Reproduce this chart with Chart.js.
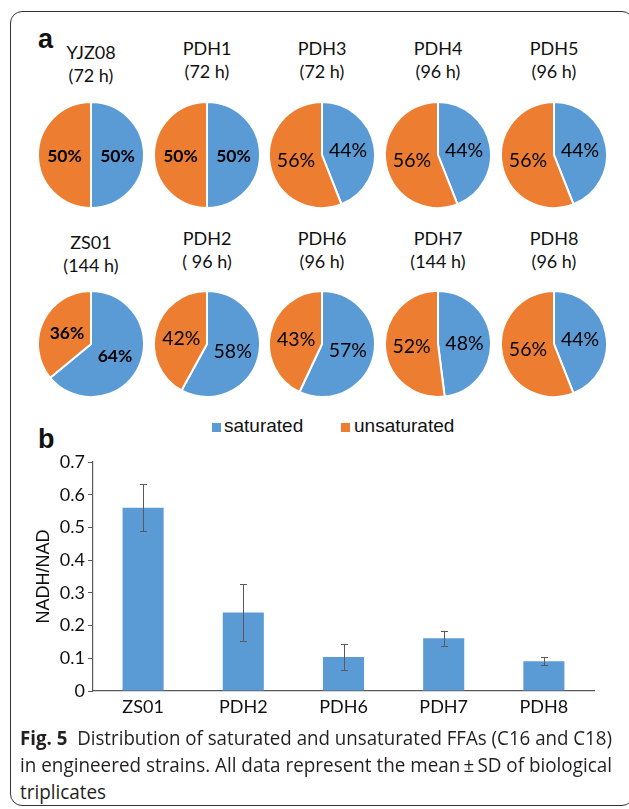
<!DOCTYPE html>
<html>
<head>
<meta charset="utf-8">
<script src="https://cdn.jsdelivr.net/npm/chart.js@4.4.1/dist/chart.umd.min.js"></script>
<style>
  body { margin: 0; background: #fff; width: 629px; height: 809px; overflow: hidden; position: relative; }
  .frame { position: absolute; left: 10px; top: 11px; width: 624px; height: 795px; border: 1.5px solid #333; border-radius: 12px; box-sizing: border-box; }
  .panel { position: absolute; font: bold 27px "Liberation Sans", Arial, sans-serif; color: #111; line-height: 30px; }
  .ptitle { position: absolute; width: 120px; text-align: center; font: 18px Lato, sans-serif; line-height: 23px; color: #111; white-space: pre; }
  .pie { position: absolute; width: 108px; height: 108px; }
  .key { position: absolute; width: 9px; height: 9px; }
  .keytext { position: absolute; font: 19px "Liberation Sans", Arial, sans-serif; line-height: 22px; color: #111; }
  .cap { position: absolute; left: 20px; font: 20px "Open Sans", sans-serif; line-height: 27px; color: #231f20; white-space: nowrap; transform-origin: 0 0; }
  .cap b { font-weight: 700; }
  #bars { position: absolute; left: 20px; top: 445px; }
</style>
</head>
<body>
<div class="frame"></div>
<div class="panel" style="left:38px; top:24px;">a</div>
<div class="panel" style="left:38px; top:424px;">b</div>

<div class="key" style="left:212px; top:423px; background:#5b9bd5;"></div>
<div class="keytext" style="left:224px; top:415px;">saturated</div>
<div class="key" style="left:341px; top:423px; background:#ed7d31;"></div>
<div class="keytext" style="left:354px; top:415px;">unsaturated</div>

<canvas id="bars" width="600" height="280"></canvas>

<div class="cap" id="cap1" style="top:724px;"><b>Fig. 5</b>&nbsp;&nbsp;Distribution of saturated and unsaturated FFAs (C16 and C18)</div>
<div class="cap" id="cap2" style="top:751px;">in engineered strains. All data represent the mean&#8201;±&#8201;SD of biological</div>
<div class="cap" id="cap3" style="top:778px;">triplicates</div>

<script>
// panel a: fatty acid split per strain
const strains = ['YJZ08', 'PDH1', 'PDH3', 'PDH4', 'PDH5', 'ZS01', 'PDH2', 'PDH6', 'PDH7', 'PDH8'];
const times = ['(72 h)', '(72 h)', '(72 h)', '(96 h)', '(96 h)', '(144 h)', '( 96 h)', '(96 h)', '(144 h)', '(96 h)'];
const saturated = [50, 50, 44, 44, 44, 64, 58, 57, 48, 44];
const unsaturated = [50, 50, 56, 56, 56, 36, 42, 43, 52, 56];

// panel b: NADH/NAD ratio
const barStrains = ['ZS01', 'PDH2', 'PDH6', 'PDH7', 'PDH8'];
const ratio = [0.56, 0.24, 0.104, 0.161, 0.091];
const ratioSD = [0.072, 0.086, 0.04, 0.023, 0.013];
const yTicks = [0, 0.1, 0.2, 0.3, 0.4, 0.5, 0.6, 0.7];

const blue = '#5b9bd5';
const orange = '#ed7d31';
const pieX = [91, 207, 322, 438, 554];
const pieY = [155, 344];
const boldPies = [0, 1, 5];

// draws the percentage inside each slice
const sliceLabels = {
    id: 'sliceLabels',
    afterDatasetsDraw(chart, args, opts) {
        let ctx = chart.ctx;
        let meta = chart.getDatasetMeta(0);
        let values = chart.data.datasets[0].data;
        ctx.save();
        ctx.fillStyle = '#000';
        ctx.font = opts.bold ? 'bold 17.5px Lato' : '19.5px Lato';
        ctx.textAlign = 'center';
        ctx.textBaseline = 'middle';
        meta.data.forEach(function(arc, i) {
            let p = arc.tooltipPosition();
            ctx.fillText(values[i] + '%', p.x, p.y + 1);
        });
        ctx.restore();
    }
};

strains.forEach(function(name, i) {
    let row = i < 5 ? 0 : 1;
    let cx = pieX[i % 5];
    let cy = pieY[row];

    let title = document.createElement('div');
    title.className = 'ptitle';
    title.textContent = name + '\n' + times[i];
    let top = row === 0 ? 37 : 227;
    if (i === 0 || i === 5) top += 4;
    title.style.left = (cx - 60) + 'px';
    title.style.top = top + 'px';
    document.body.appendChild(title);

    let canvas = document.createElement('canvas');
    canvas.className = 'pie';
    canvas.width = 108;
    canvas.height = 108;
    canvas.style.left = (cx - 54) + 'px';
    canvas.style.top = (cy - 54) + 'px';
    document.body.appendChild(canvas);

    new Chart(canvas.getContext('2d'), {
        type: 'pie',
        data: {
            labels: ['saturated', 'unsaturated'],
            datasets: [{
                data: [saturated[i], unsaturated[i]],
                backgroundColor: [blue, orange],
                borderColor: '#fff',
                borderWidth: 2
            }]
        },
        options: {
            responsive: false,
            animation: false,
            events: [],
            layout: { padding: 0 },
            plugins: {
                legend: { display: false },
                tooltip: { enabled: false },
                sliceLabels: { bold: boldPies.includes(i) }
            }
        },
        plugins: [sliceLabels]
    });
});

// error bars on top of the bars
const errorBars = {
    id: 'errorBars',
    afterDatasetsDraw(chart) {
        let ctx = chart.ctx;
        let yScale = chart.scales.y;
        let meta = chart.getDatasetMeta(0);
        ctx.save();
        ctx.strokeStyle = '#5a5a5a';
        ctx.lineWidth = 1;
        meta.data.forEach(function(bar, i) {
            let x = Math.round(bar.x) + 0.5;
            let hi = yScale.getPixelForValue(ratio[i] + ratioSD[i]);
            let lo = yScale.getPixelForValue(ratio[i] - ratioSD[i]);
            ctx.beginPath();
            ctx.moveTo(x, hi);
            ctx.lineTo(x, lo);
            ctx.moveTo(x - 3.5, Math.round(hi) + 0.5);
            ctx.lineTo(x + 3.5, Math.round(hi) + 0.5);
            ctx.moveTo(x - 3.5, Math.round(lo) + 0.5);
            ctx.lineTo(x + 3.5, Math.round(lo) + 0.5);
            ctx.stroke();
        });
        ctx.restore();
    }
};

new Chart(document.getElementById('bars').getContext('2d'), {
    type: 'bar',
    data: {
        labels: barStrains,
        datasets: [{
            label: 'NADH/NAD',
            data: ratio,
            backgroundColor: blue,
            barPercentage: 0.41,
            categoryPercentage: 1
        }]
    },
    options: {
        responsive: false,
        animation: false,
        events: [],
        layout: { padding: { top: 17, right: 26, bottom: 4, left: 0 } },
        plugins: {
            legend: { display: false },
            tooltip: { enabled: false }
        },
        scales: {
            x: {
                grid: { display: false, drawTicks: false },
                border: { display: true, color: '#595959', width: 1.2 },
                ticks: { color: '#111', font: { family: 'Lato', size: 18 }, padding: 5 },
                afterFit: function(scale) { scale.height = 30; }
            },
            y: {
                min: 0,
                max: 0.7,
                afterBuildTicks: function(scale) {
                    scale.ticks = yTicks.map(v => ({ value: v }));
                },
                grid: { drawOnChartArea: false, drawTicks: true, tickLength: 5, color: '#595959' },
                border: { display: true, color: '#595959', width: 1.2 },
                ticks: { color: '#111', font: { family: 'Lato', size: 18 }, padding: 3 },
                title: {
                    display: true,
                    text: 'NADH/NAD',
                    color: '#111',
                    font: { family: 'Liberation Sans', size: 18 },
                    padding: { top: 13, bottom: 0 }
                },
                afterFit: function(scale) { scale.width = 73; }
            }
        }
    },
    plugins: [errorBars]
});

// squeeze caption lines to the printed width
['cap1', 'cap2'].forEach(function(id) {
    let el = document.getElementById(id);
    let k = 592 / el.getBoundingClientRect().width;
    el.style.transform = 'scaleX(' + k + ')';
    if (id === 'cap2') document.getElementById('cap3').style.transform = 'scaleX(' + k + ')';
});
</script>
</body>
</html>
